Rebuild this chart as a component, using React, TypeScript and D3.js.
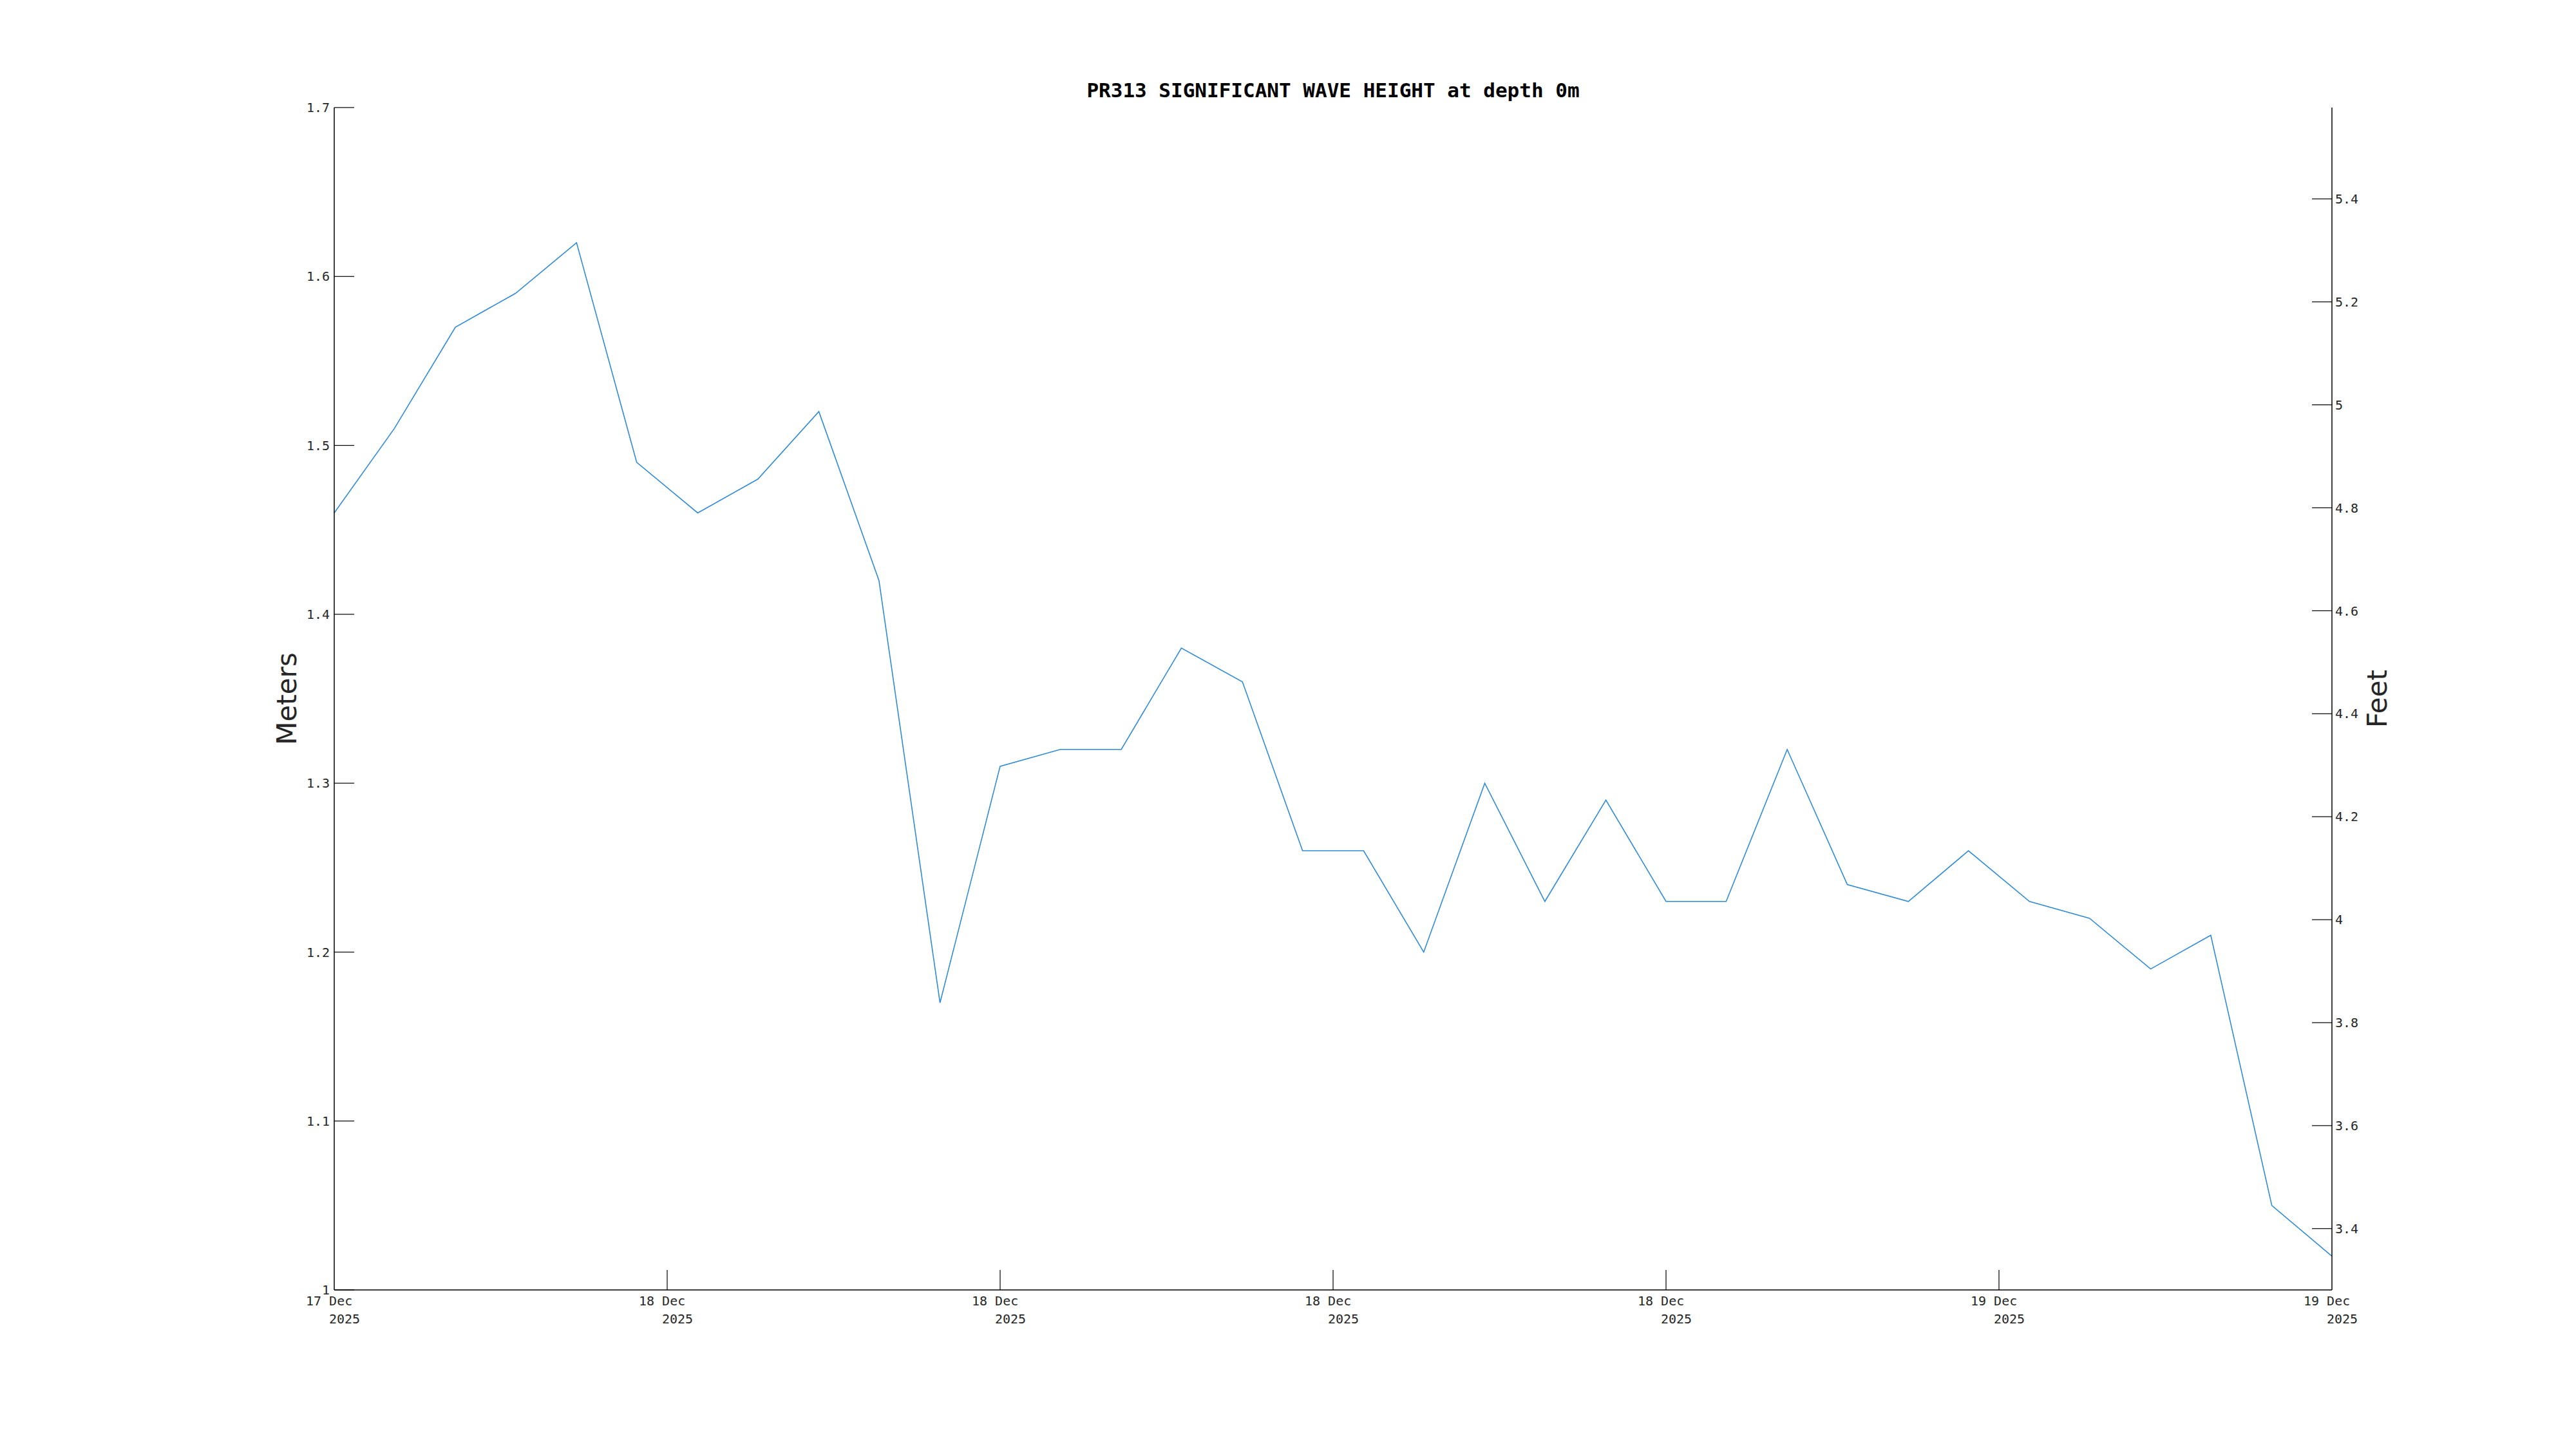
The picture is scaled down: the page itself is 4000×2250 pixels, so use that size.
import React from "react";
import * as d3 from "d3";

const TITLE = "PR313 SIGNIFICANT WAVE HEIGHT at depth 0m";
const Y_LABEL_LEFT = "Meters";
const Y_LABEL_RIGHT = "Feet";

const times: string[] = [
  "2025-12-17T18:00", "2025-12-17T19:05", "2025-12-17T20:11", "2025-12-17T21:16",
  "2025-12-17T22:22", "2025-12-17T23:27", "2025-12-18T00:33", "2025-12-18T01:38",
  "2025-12-18T02:44", "2025-12-18T03:49", "2025-12-18T04:55", "2025-12-18T06:00",
  "2025-12-18T07:05", "2025-12-18T08:11", "2025-12-18T09:16", "2025-12-18T10:22",
  "2025-12-18T11:27", "2025-12-18T12:33", "2025-12-18T13:38", "2025-12-18T14:44",
  "2025-12-18T15:49", "2025-12-18T16:55", "2025-12-18T18:00", "2025-12-18T19:05",
  "2025-12-18T20:11", "2025-12-18T21:16", "2025-12-18T22:22", "2025-12-18T23:27",
  "2025-12-19T00:33", "2025-12-19T01:38", "2025-12-19T02:44", "2025-12-19T03:49",
  "2025-12-19T04:55", "2025-12-19T06:00",
];

const heights: number[] = [
  1.46, 1.51, 1.57, 1.59, 1.62, 1.49, 1.46, 1.48, 1.52, 1.42,
  1.17, 1.31, 1.32, 1.32, 1.38, 1.36, 1.26, 1.26, 1.20, 1.30,
  1.23, 1.29, 1.23, 1.23, 1.32, 1.24, 1.23, 1.26, 1.23, 1.22,
  1.19, 1.21, 1.05, 1.02,
];

const xTickTimes: string[] = [
  "2025-12-17T18:00", "2025-12-18T00:00", "2025-12-18T06:00", "2025-12-18T12:00",
  "2025-12-18T18:00", "2025-12-19T00:00", "2025-12-19T06:00",
];
const xTickLine1: string[] = ["17 Dec", "18 Dec", "18 Dec", "18 Dec", "18 Dec", "19 Dec", "19 Dec"];
const xTickLine2: string[] = ["2025", "2025", "2025", "2025", "2025", "2025", "2025"];

const yTicksMeters: number[] = [1, 1.1, 1.2, 1.3, 1.4, 1.5, 1.6, 1.7];
const yTicksFeet: number[] = [3.4, 3.6, 3.8, 4, 4.2, 4.4, 4.6, 4.8, 5, 5.2, 5.4];

const M_TO_FT = 3.28084;

export default function App() {
  const W = 4000, H = 2250;
  const left = 519, right = 3621, top = 167, bottom = 2003;
  const parse = d3.timeParse("%Y-%m-%dT%H:%M");
  const x = d3.scaleTime()
    .domain([parse("2025-12-17T18:00")!, parse("2025-12-19T06:00")!])
    .range([left, right]);
  const y = d3.scaleLinear().domain([1, 1.7]).range([bottom, top]);
  const yFt = d3.scaleLinear().domain([1 * M_TO_FT, 1.7 * M_TO_FT]).range([bottom, top]);

  const pts: [number, number][] = times.map((t, i) => [x(parse(t)!), y(heights[i])]);
  const line = d3.line()(pts) || "";

  const tickLen = 31;
  const mono = "'DejaVu Sans Mono', monospace";
  const sans = "'DejaVu Sans', sans-serif";
  const textColor = "#262626";
  const fmt = (v: number) => String(+v.toFixed(2));

  return (
    <svg width={W} height={H} style={{ position: "absolute", left: 0, top: 0, background: "#fff" }}>
      <rect x={0} y={0} width={W} height={H} fill="#fff" />
      <text x={(left + right) / 2} y={151} textAnchor="middle" fontFamily={mono} fontWeight="bold" fontSize={31} fill="#000">
        {TITLE}
      </text>

      {/* data line */}
      <path d={line} fill="none" stroke="#2f8bd8" strokeWidth={1.6} />

      {/* axes lines */}
      <line x1={left} y1={top} x2={left} y2={bottom} stroke="#000" strokeWidth={1.5} />
      <line x1={right} y1={top} x2={right} y2={bottom} stroke="#000" strokeWidth={1.5} />
      <line x1={left} y1={bottom} x2={right} y2={bottom} stroke="#000" strokeWidth={1.5} />

      {/* left ticks */}
      {yTicksMeters.map((v) => (
        <g key={"m" + v}>
          <line x1={left} x2={left + tickLen} y1={y(v)} y2={y(v)} stroke="#000" strokeWidth={1.2} />
          <text x={left - 7} y={y(v)} dy="0.36em" textAnchor="end" fontFamily={mono} fontSize={20} fill={textColor}>
            {fmt(v)}
          </text>
        </g>
      ))}

      {/* right ticks */}
      {yTicksFeet.map((v) => (
        <g key={"f" + v}>
          <line x1={right - tickLen} x2={right} y1={yFt(v)} y2={yFt(v)} stroke="#000" strokeWidth={1.2} />
          <text x={right + 5} y={yFt(v)} dy="0.36em" textAnchor="start" fontFamily={mono} fontSize={20} fill={textColor}>
            {fmt(v)}
          </text>
        </g>
      ))}

      {/* bottom ticks */}
      {xTickTimes.map((t, i) => {
        const xp = x(parse(t)!);
        return (
          <g key={"x" + i}>
            {i > 0 && i < xTickTimes.length - 1 && (
              <line x1={xp} x2={xp} y1={bottom} y2={bottom - tickLen} stroke="#000" strokeWidth={1.2} />
            )}
            <text x={xp - 44} y={2027} textAnchor="start" fontFamily={mono} fontSize={20} fill={textColor}>
              {xTickLine1[i]}
            </text>
            <text x={xp - 8} y={2055} textAnchor="start" fontFamily={mono} fontSize={20} fill={textColor}>
              {xTickLine2[i]}
            </text>
          </g>
        );
      })}

      {/* axis labels */}
      <text transform={`translate(460, ${(top + bottom) / 2}) rotate(-90)`} textAnchor="middle" fontFamily={sans} fontSize={42} fill={textColor}>
        {Y_LABEL_LEFT}
      </text>
      <text transform={`translate(3706, ${(top + bottom) / 2}) rotate(-90)`} textAnchor="middle" fontFamily={sans} fontSize={42} fill={textColor}>
        {Y_LABEL_RIGHT}
      </text>
    </svg>
  );
}
